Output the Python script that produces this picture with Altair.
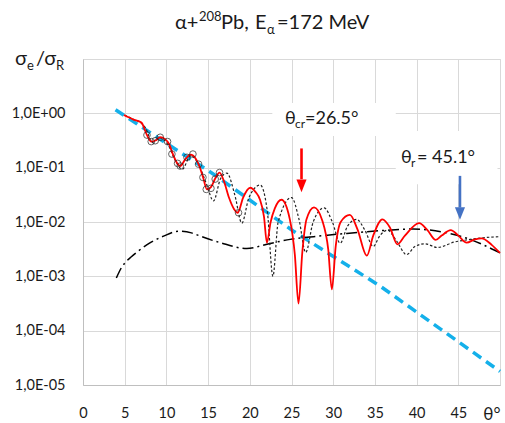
import altair as alt
import pandas as pd

# ---------------- data ----------------
# red solid curve
red_x = [4.9, 6.0, 7.0, 7.67, 8.2, 8.7, 9.26, 9.8, 10.3, 10.8, 11.3, 11.66, 12.2, 12.9,
         13.5, 13.9, 14.4, 14.86, 15.34, 15.85, 16.37, 16.9, 17.5, 18.1, 18.55, 19.2,
         20.05, 20.7, 21.2, 21.7, 22.05, 22.5, 23.0, 23.8, 24.8, 25.4, 25.84, 26.3, 26.8,
         27.7, 28.7, 29.4, 29.84, 30.3, 30.9, 32.0, 32.9, 34.03, 34.8, 35.9, 36.8, 37.7,
         38.6, 40.3, 41.3, 42.3, 43.0, 44.1, 45.0, 46.0, 47.0, 47.8, 49.0, 50.0]
red_y = [0.933, 0.776, 0.676, 0.398, 0.302, 0.316, 0.363, 0.339, 0.275, 0.174, 0.120, 0.107,
         0.138, 0.174, 0.148, 0.112, 0.0661, 0.0398, 0.0437, 0.0631, 0.0813, 0.0562, 0.0282,
         0.0174, 0.0148, 0.0282, 0.0427, 0.0355, 0.0263, 0.0126, 0.00417, 0.0100, 0.0178,
         0.0257, 0.0112, 0.00251, 0.000316, 0.00282, 0.0112, 0.0186, 0.0105, 0.00316,
         0.000575, 0.00355, 0.0100, 0.0135, 0.00741, 0.00240, 0.00562, 0.0112, 0.00794,
         0.00389, 0.00562, 0.00955, 0.00708, 0.00468, 0.00562, 0.00708, 0.00562, 0.00417,
         0.00479, 0.00501, 0.00380, 0.00269]

# black dotted curve
dot_x = [5.0, 6.0, 6.8, 7.5, 8.3, 9.2, 10.2, 11.1, 11.9, 12.9, 13.9, 14.8, 15.65, 16.5,
         17.26, 18.2, 19.05, 19.9, 21.25, 22.1, 22.77, 23.4, 25.0, 25.9, 26.7, 27.6, 28.9,
         29.9, 30.84, 31.7, 32.8, 33.8, 34.8, 35.6, 36.5, 37.6, 38.8, 39.8, 41.0, 42.5,
         44.5, 46.0, 48.0, 50.0]
dot_y = [0.933, 0.776, 0.692, 0.537, 0.295, 0.355, 0.263, 0.132, 0.0933, 0.166, 0.112,
         0.0501, 0.0245, 0.0631, 0.0794, 0.0316, 0.00955, 0.0282, 0.0479, 0.0158, 0.00100,
         0.0100, 0.0282, 0.0112, 0.00275, 0.0100, 0.0182, 0.0100, 0.00407, 0.00832, 0.0112,
         0.00708, 0.00355, 0.00562, 0.00708, 0.00447, 0.00251, 0.00355, 0.00398, 0.00339,
         0.00427, 0.00468, 0.00513, 0.00537]

# black dash-dot curve
dd_x = [4.0, 4.5, 5.1, 5.8, 6.5, 8.07, 9.66, 11.5, 13.0, 14.06, 16.45, 19.65, 22.05, 24.84,
        27.63, 31.63, 35.63, 39.6, 43.6, 46.4, 50.0]
dd_y = [0.000933, 0.00135, 0.00182, 0.00229, 0.00282, 0.00417, 0.00550, 0.00676, 0.00631,
        0.00550, 0.00417, 0.00324, 0.00389, 0.00479, 0.00537, 0.00617, 0.00692, 0.00741,
        0.00631, 0.00479, 0.00269]

# light-blue dashed curve
blue_x = [3.9, 15.65, 25.24, 35.63, 50.0]
blue_y = [1.16, 0.0759, 0.00676, 0.000661, 0.0000178]

# experimental points (circles)
exp_x = [7.67, 8.18, 8.66, 9.26, 10.14, 10.66, 11.34, 11.66, 12.46, 13.18, 13.86, 14.38,
         14.78, 15.34, 15.85, 16.37, 18.65]
exp_y = [0.398, 0.302, 0.313, 0.363, 0.302, 0.178, 0.120, 0.107, 0.155, 0.178, 0.116,
         0.0661, 0.0398, 0.0417, 0.0617, 0.0813, 0.0148]

# arrows: angle, top of shaft, base of head, centre of head
arrow_x = [26.2, 45.2]
arrow_top = [0.226, 0.0706]
arrow_base = [0.0614, 0.01845]
arrow_head = [0.0461, 0.01435]
arrow_color = ["#FF0000", "#4472C4"]

# white label boxes (cover gridlines behind the annotations)
box_x = [22.7, 37.5]
box_x2 = [37.5, 49.7]
box_y = [1.55, 0.471]
box_y2 = [0.381, 0.0496]

x_ticks = [0, 5, 10, 15, 20, 25, 30, 35, 40, 45, 50]
y_ticks = [1e-5, 1e-4, 1e-3, 1e-2, 1e-1, 1, 10]

# ---------------- chart ----------------
W, H = 417, 326
FONT = "Lato, 'DejaVu Sans', sans-serif"
TXT = "#1a1a1a"

xs = alt.Scale(domain=[0, 50], nice=False, zero=False)
ys = alt.Scale(type="log", domain=[1e-5, 10], nice=False)

xaxis = alt.Axis(values=x_ticks, grid=True, gridColor="#d9d9d9", domainColor="#bfbfbf",
                 ticks=False, labelPadding=21, labelFont=FONT, labelColor=TXT,
                 labelFontSize={"condition": {"test": "datum.value == 50", "value": 17}, "value": 14.5},
                 labelAlign={"condition": {"test": "datum.value == 50", "value": "right"}, "value": "center"},
                 labelFlush=False, labelOverlap=False, title=None,
                 labelExpr="datum.value == 50 ? 'θ°' : datum.label")
yaxis = alt.Axis(values=y_ticks, grid=True, gridColor="#d9d9d9", domainColor="#bfbfbf",
                 ticks=False, labelPadding=18, labelFont=FONT, labelColor=TXT,
                 labelFontSize=14.5, labelFlush=False, labelOverlap=False, title=None,
                 labelExpr="datum.value > 5 ? '' : '1,0E' + (datum.value >= 1 ? '+' : '-') + "
                           "(abs(round(log(datum.value)/LN10)) < 10 ? '0' : '') + "
                           "abs(round(log(datum.value)/LN10))")

df_red = pd.DataFrame({"x": red_x, "y": red_y})
df_dot = pd.DataFrame({"x": dot_x, "y": dot_y})
df_dd = pd.DataFrame({"x": dd_x, "y": dd_y})
df_blue = pd.DataFrame({"x": blue_x, "y": blue_y})
df_exp = pd.DataFrame({"x": exp_x, "y": exp_y})
df_arrow = pd.DataFrame({"x": arrow_x, "top": arrow_top, "base": arrow_base,
                         "head": arrow_head, "c": arrow_color})
df_box = pd.DataFrame({"x": box_x, "x2": box_x2, "y": box_y, "y2": box_y2})

boxes = alt.Chart(df_box).mark_rect(color="white").encode(
    x=alt.X("x:Q", scale=xs, axis=xaxis), x2="x2:Q",
    y=alt.Y("y:Q", scale=ys, axis=yaxis), y2="y2:Q")

blue = alt.Chart(df_blue).mark_line(color="#14B0EA", strokeWidth=3.5, strokeDash=[10, 6]).encode(
    x=alt.X("x:Q", scale=xs), y=alt.Y("y:Q", scale=ys))
dd = alt.Chart(df_dd).mark_line(color="black", strokeWidth=1.5, strokeDash=[11, 4, 2, 4],
                                interpolate="monotone").encode(
    x=alt.X("x:Q", scale=xs), y=alt.Y("y:Q", scale=ys))
dot = alt.Chart(df_dot).mark_line(color="#222222", strokeWidth=1.2, strokeDash=[2.5, 2],
                                  interpolate="monotone").encode(
    x=alt.X("x:Q", scale=xs), y=alt.Y("y:Q", scale=ys))
red = alt.Chart(df_red).mark_line(color="#FF0000", strokeWidth=1.8,
                                  interpolate="monotone").encode(
    x=alt.X("x:Q", scale=xs), y=alt.Y("y:Q", scale=ys))
pts = alt.Chart(df_exp).mark_point(shape="circle", size=44, filled=False, color="#222222",
                                   strokeWidth=1).encode(
    x=alt.X("x:Q", scale=xs), y=alt.Y("y:Q", scale=ys))

shafts = alt.Chart(df_arrow).mark_rule(strokeWidth=2.6).encode(
    x=alt.X("x:Q", scale=xs), y=alt.Y("top:Q", scale=ys), y2="base:Q",
    color=alt.Color("c:N", scale=None))
heads = alt.Chart(df_arrow).mark_point(shape="M -0.8 -1 L 0.8 -1 L 0 1 Z", size=160,
                                       filled=True, opacity=1, strokeWidth=0).encode(
    x=alt.X("x:Q", scale=xs), y=alt.Y("head:Q", scale=ys),
    color=alt.Color("c:N", scale=None))

# text pieces: (text, x px, y px baseline, font size) relative to plot origin
texts = [
    ("α+", 92, -30.5, 20), ("208", 116, -38.5, 13), ("Pb,", 138, -30.5, 20),
    ("E", 172, -30.5, 20), ("α", 184, -25.5, 13), ("=172 MeV", 194, -30.5, 20),
    ("σ", -68, 6, 20), ("e", -56, 11, 13), ("/σ", -47, 6, 20), ("R", -27, 11, 13),
    ("θ", 202, 65, 18), ("cr", 212, 69, 12), ("=26.5°", 222, 65, 18),
    ("θ", 318, 104, 18), ("r", 328, 108, 12), ("= 45.1°", 334, 104, 18),
]
text_layers = []
for t, px, py, fs in texts:
    text_layers.append(
        alt.Chart(pd.DataFrame({"t": [t]})).mark_text(
            align="left", baseline="alphabetic", font=FONT, fontSize=fs, color=TXT
        ).encode(x=alt.value(px), y=alt.value(py), text="t:N")
    )

chart = alt.layer(boxes, blue, dd, dot, red, pts, shafts, heads, *text_layers).properties(
    width=W, height=H,
    autosize=alt.AutoSizeParams(type="none"),
    padding={"left": 83, "top": 59, "right": 5, "bottom": 38},
).configure_view(stroke="#d9d9d9").configure(background="white")

chart.save("out.html", embed_options={"renderer": "svg", "actions": False})
